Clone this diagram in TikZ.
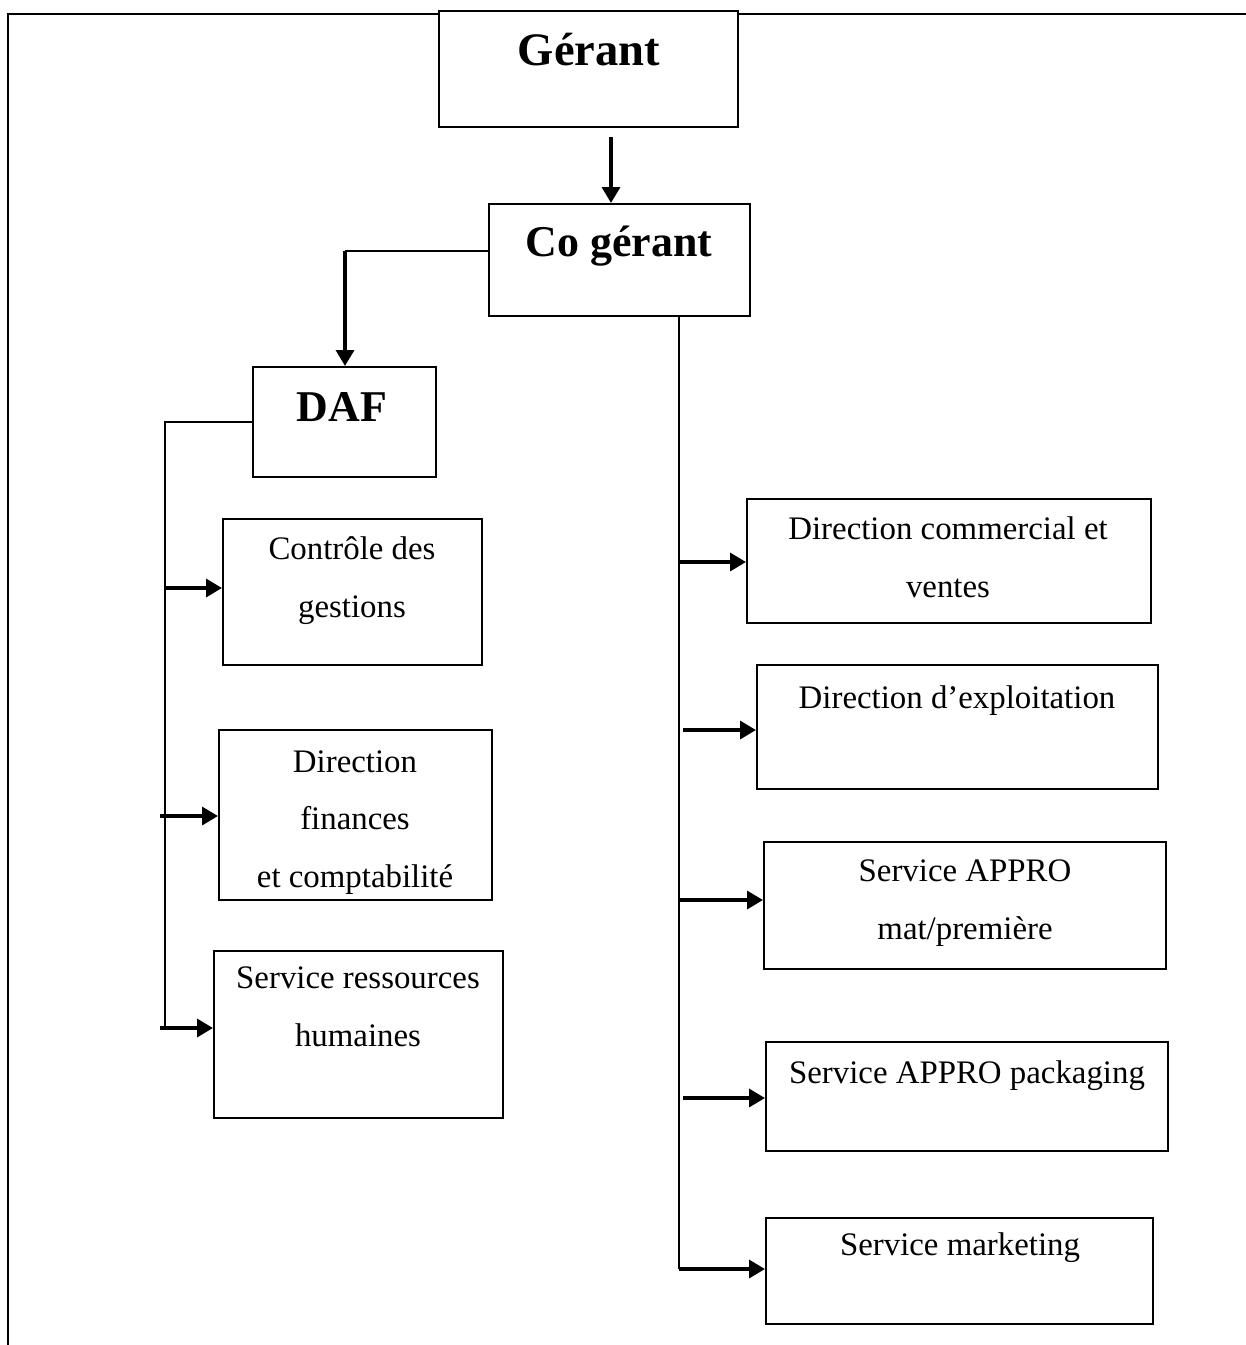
\documentclass[tikz,border=0pt]{standalone}
\usepackage{fontspec}
\setmainfont{Liberation Serif}
\usetikzlibrary{arrows.meta,fit}
\begin{document}
\begin{tikzpicture}[x=0.02cm,y=-0.02cm,
  box/.style={draw,line width=1.1pt,fill=white,inner sep=0pt},
  bigtxt/.style={font=\fontsize{26.5}{30}\selectfont\bfseries,inner sep=0pt,anchor=base},
  midtxt/.style={font=\fontsize{25}{30}\selectfont\bfseries,inner sep=0pt,anchor=base},
  txt/.style={font=\fontsize{18.7}{32.6}\selectfont,align=center,inner sep=0pt,anchor=base},
  conn/.style={line width=1.1pt},
  arr/.style={line width=2.2pt,-{Triangle[length=9pt,width=10pt]}}
]
\useasboundingbox (0,0) rectangle (1246,1345);
% outer frame
\coordinate (f1) at (1246,14);
\coordinate (f2) at (8,14);
\coordinate (f3) at (8,1345);
\draw[line width=1.2pt] (f1) -- (f2) -- (f3);

% boxes
\node[box,line width=1.4pt,fit={(439,11) (738,127)}] (g) {};
\node[box,fit={(489,204) (750,316)}] (cog) {};
\node[box,fit={(253,367) (436,477)}] (daf) {};
\node[box,fit={(223,519) (482,665)}] (cg) {};
\node[box,fit={(219,730) (492,900)}] (dfc) {};
\node[box,fit={(214,951) (503,1118)}] (srh) {};
\node[box,fit={(747,499) (1151,623)}] (dcv) {};
\node[box,fit={(757,665) (1158,789)}] (dex) {};
\node[box,fit={(764,842) (1166,969)}] (sam) {};
\node[box,fit={(766,1042) (1168,1151)}] (sap) {};
\node[box,fit={(766,1218) (1153,1324)}] (smk) {};

% texts (anchor = baseline of the last line)
\node[bigtxt] (gt) at (589,66) {Gérant};
\node[midtxt] (cogt) at (619,256) {Co gérant};
\node[midtxt] (daft) at (342,421) {DAF};
\node[txt] (cgt) at (352,617) {Contrôle des\\gestions};
\node[txt] (dfct) at (355,887) {Direction\\finances\\et comptabilité};
\node[txt] (srht) at (358,1046) {Service ressources\\humaines};
\node[txt] (dcvt) at (948,597) {Direction commercial et\\ventes};
\node[txt] (dext) at (957,708) {Direction d’exploitation};
\node[txt] (samt) at (965,939) {Service APPRO\\mat/première};
\node[txt] (sapt) at (967,1083) {Service APPRO packaging};
\node[txt] (smkt) at (960,1255) {Service marketing};

% Gérant -> Co gérant
\coordinate (a1) at (611,137);
\draw[arr] (a1) -- (a1 |- cog.north);

% Co gérant -> DAF
\coordinate (h1) at (345,251);
\draw[conn] (h1 -| cog.west) -- (h1);
\draw[arr] (h1) -- (h1 |- daf.north);

% DAF trunk
\coordinate (t0) at (165,422);
\coordinate (t1) at (165,588);
\coordinate (t2) at (160,816);
\coordinate (t3) at (160,1028);
\draw[conn] (t0 -| daf.west) -- (t0) -- (165,1028);
\draw[arr] (t1) -- (t1 -| cg.west);
\draw[arr] (t2) -- (t2 -| dfc.west);
\draw[arr] (t3) -- (t3 -| srh.west);

% Co gérant right trunk
\coordinate (r0) at (679,316);
\coordinate (r6) at (679,1269);
\draw[conn] (r0 |- cog.south) -- (r6);
\coordinate (r1) at (679,562);
\coordinate (r2) at (683,730);
\coordinate (r3) at (679,900);
\coordinate (r4) at (683,1098);
\draw[arr] (r1) -- (r1 -| dcv.west);
\draw[arr] (r2) -- (r2 -| dex.west);
\draw[arr] (r3) -- (r3 -| sam.west);
\draw[arr] (r4) -- (r4 -| sap.west);
\draw[arr] (r6) -- (r6 -| smk.west);
\end{tikzpicture}
\end{document}
